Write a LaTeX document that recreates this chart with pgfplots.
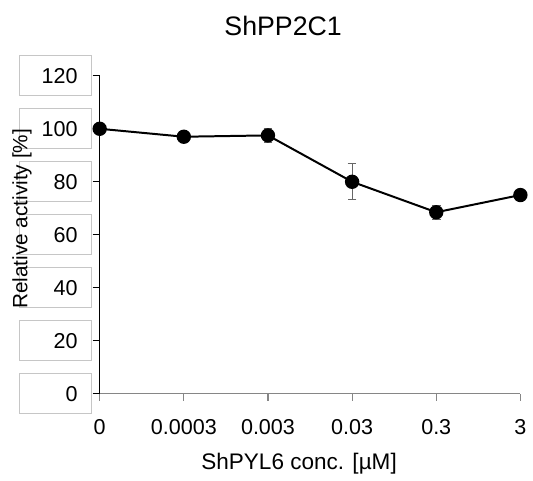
\documentclass[border=0pt]{standalone}
\usepackage{fontspec}
\setmainfont{Liberation Sans}
\usepackage{pgfplots}
\usepackage{pgfplotstable}
\pgfplotsset{compat=1.18}
\definecolor{BoxLine}{HTML}{C6C6C6}
\definecolor{AxGray}{HTML}{868686}
\definecolor{ErrGray}{HTML}{666666}

% activity vs. ShPYL6 concentration (categories 0..5)
\pgfplotstableread{
x y err
0 100 0
1 97 1.8
2 97.5 2.6
3 80 6.8
4 68.5 2.6
5 75 0.6
}\actdata

\begin{document}
\begin{tikzpicture}
\begin{axis}[
  scale only axis, width=211bp, height=159.5bp,
  xmin=0, xmax=5, ymin=0, ymax=120,
  axis x line=bottom, axis y line=left,
  axis line style={-},
  x axis line style={AxGray, line width=0.6bp},
  y axis line style={black, line width=0.6bp},
  xtick={0,...,5},
  xticklabels={0,0.0003,0.003,0.03,0.3,3},
  ytick={0,20,...,120},
  tick align=outside, major tick length=3.5bp,
  xtick style={AxGray, line width=0.6bp},
  ytick style={black, line width=0.6bp},
  /pgf/number format/assume math mode=true,
  ticklabel style={font=\fontsize{10.8bp}{13bp}\selectfont},
  xticklabel style={anchor=base, yshift=-17bp},
  yticklabel={\makebox[36bp][r]{\pgfmathprintnumber{\tick}\hspace{7bp}}},
  yticklabel style={draw=BoxLine, line width=0.6bp,
    inner xsep=0pt, inner ysep=0pt, minimum height=20bp, anchor=east, xshift=-0.3bp},
  clip=false,
]
\addplot[black, line width=1bp, mark=*, mark size=3.1bp,
  error bars/.cd, y dir=both, y explicit,
  error bar style={ErrGray, line width=0.5bp},
  error mark options={ErrGray, line width=0.5bp, mark size=2.2bp, rotate=90}]
  table[x=x, y=y, y error=err] {\actdata};
\end{axis}
\node[anchor=base, font=\fontsize{13.4bp}{16bp}\selectfont] at (92bp,179.5bp) {ShPP2C1};
\node[anchor=base, font=\fontsize{11.3bp}{14bp}\selectfont] at (100bp,-38bp) {ShPYL6 conc. [µM]};
\node[rotate=90, font=\fontsize{10.4bp}{12bp}\selectfont] at (-39bp,87.75bp) {Relative activity [\%]};
\path[use as bounding box] (-50bp,-43.5bp) rectangle (216.5bp,197.5bp);
\end{tikzpicture}
\end{document}
